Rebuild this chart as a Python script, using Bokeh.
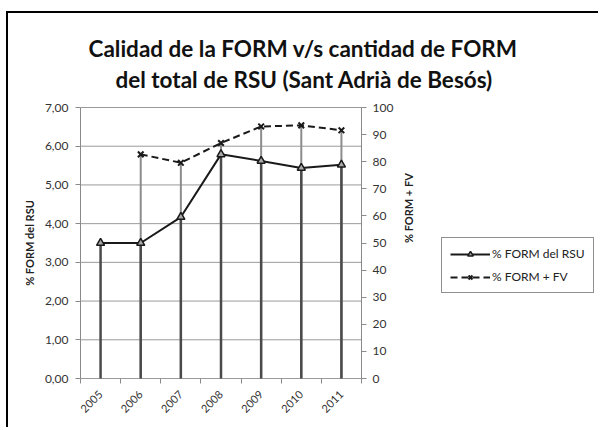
import math
from bokeh.plotting import figure
from bokeh.models import (Range1d, LinearAxis, FixedTicker, Legend, LegendItem,
                          Title, ColumnDataSource)
from bokeh.embed import file_html
from bokeh.resources import INLINE

# ---- data ----
years = ["2005", "2006", "2007", "2008", "2009", "2010", "2011"]
form_rsu = [3.50, 3.50, 4.17, 5.79, 5.62, 5.44, 5.52]          # left axis
form_fv = [float("nan"), 82.7, 79.6, 86.9, 93.0, 93.4, 91.6]    # right axis
left_ticks = [0, 1, 2, 3, 4, 5, 6, 7]
left_tick_labels = ["0,00", "1,00", "2,00", "3,00", "4,00", "5,00", "6,00", "7,00"]
right_ticks = [0, 10, 20, 30, 40, 50, 60, 70, 80, 90, 100]
title_lines = ["Calidad de la FORM v/s cantidad de FORM",
               "del total de RSU (Sant Adrià de Besós)"]
series_names = ["% FORM del RSU", "% FORM + FV"]
left_label = "% FORM del RSU"
right_label = "% FORM + FV"

FONT = "Lato"
n = len(years)
xs = [i + 0.5 for i in range(n)]
L_MAX, R_MAX = left_ticks[-1], right_ticks[-1]

src = ColumnDataSource(dict(x=xs, rsu=form_rsu, fv=form_fv, zero=[0] * n))
grid_src = ColumnDataSource(dict(y=left_ticks, x0=[0] * len(left_ticks),
                                 x1=[n] * len(left_ticks)))

# layout in pixels: category area 281 px wide, value area 271 px tall;
# the frame is padded so that axis labels pinned inside it are not clipped
PX_X = 281 / n
PX_L = 271 / L_MAX
PX_R = 271 / R_MAX
PAD = 7
FRAME_W = 592 - 72 - 5
X_END = FRAME_W / PX_X

p = figure(width=592, height=416, output_backend="svg", toolbar_location=None,
           x_range=Range1d(0, X_END),
           y_range=Range1d(-PAD / PX_L, L_MAX + PAD / PX_L),
           min_border_left=72, min_border_right=5, min_border_top=87,
           min_border_bottom=44)
p.outline_line_color = None
p.background_fill_color = "white"
p.border_fill_color = "white"
p.styles = {"border-top": "2px solid black", "border-left": "2px solid black",
            "margin-left": "6px", "margin-top": "11px"}

p.extra_y_ranges = {"right": Range1d(-PAD / PX_R, R_MAX + PAD / PX_R)}

# titles: p.title is the upper line, the added Title the lower line
p.title.text = title_lines[0]
t2 = Title(text=title_lines[1])
for t, off, so in [(p.title, 8, -11), (t2, 35, 15)]:
    t.align = "left"
    t.offset = off
    t.standoff = so
    t.text_font = FONT
    t.text_font_style = "bold"
    t.text_font_size = "22.5px"
    t.text_color = "#111111"
p.add_layout(t2, "above")

# gridlines (only across the category area)
p.grid.visible = False
p.segment(x0="x0", y0="y", x1="x1", y1="y", source=grid_src,
          line_color="#9a9a9a", line_width=1)

# x axis (its line is the gridline at 0)
xa = p.xaxis[0]
xa.bounds = (0, n)
xa.ticker = FixedTicker(ticks=xs, minor_ticks=list(range(n + 1)))
xa.major_label_overrides = {x: y for x, y in zip(xs, years)}
xa.major_tick_line_color = None
xa.minor_tick_line_color = "#8a8a8a"
xa.minor_tick_in = PAD
xa.minor_tick_out = -2
xa.axis_line_color = None
xa.major_label_orientation = math.pi / 4
xa.major_label_text_font = FONT
xa.major_label_text_font_size = "11px"
xa.major_label_text_color = "#333333"
xa.major_label_standoff = 1

# left axis
ya = p.yaxis[0]
ya.bounds = (0, L_MAX)
ya.ticker = FixedTicker(ticks=left_ticks, minor_ticks=[])
ya.major_label_overrides = {t: l for t, l in zip(left_ticks, left_tick_labels)}
ya.axis_line_color = "#8a8a8a"
ya.major_tick_line_color = "#8a8a8a"
ya.major_tick_out = 5
ya.major_tick_in = 0
ya.major_label_text_font = FONT
ya.major_label_text_font_size = "12px"
ya.major_label_text_color = "#333333"
ya.major_label_standoff = 7
ya.axis_label = left_label
ya.axis_label_text_font = FONT
ya.axis_label_text_font_style = "bold"
ya.axis_label_text_font_size = "11px"
ya.axis_label_text_color = "#222222"
ya.axis_label_standoff = 6

# right axis, pinned at the end of the category area
ra = LinearAxis(y_range_name="right", fixed_location=n, bounds=(0, R_MAX),
                ticker=FixedTicker(ticks=right_ticks, minor_ticks=[]))
ra.axis_line_color = "#8a8a8a"
ra.major_tick_line_color = "#8a8a8a"
ra.major_tick_out = 5
ra.major_tick_in = 0
ra.major_label_text_font = FONT
ra.major_label_text_font_size = "12px"
ra.major_label_text_color = "#333333"
ra.major_label_standoff = 6
ra.axis_label = right_label
ra.axis_label_text_font = FONT
ra.axis_label_text_font_style = "bold"
ra.axis_label_text_font_size = "11px"
ra.axis_label_text_color = "#222222"
ra.axis_label_standoff = 12
if hasattr(ra, "axis_label_orientation"):
    ra.axis_label_orientation = math.pi / 2
p.add_layout(ra, "right")

# drop lines
p.segment(x0="x", y0="zero", x1="x", y1="fv", source=src, y_range_name="right",
          line_color="#8c8c8c", line_width=2)
p.segment(x0="x", y0="zero", x1="x", y1="rsu", source=src,
          line_color="#4a4a4a", line_width=2.5)

# series
l1 = p.line("x", "rsu", source=src, line_color="#1a1a1a", line_width=2)
m1 = p.scatter("x", "rsu", source=src, marker="triangle", size=8,
               line_color="#1a1a1a", fill_color="#aaaaaa", line_width=1.5)
l2 = p.line("x", "fv", source=src, y_range_name="right", line_color="#1a1a1a",
            line_width=2, line_dash="7 4")
m2 = p.scatter("x", "fv", source=src, y_range_name="right", marker="x", size=8,
               line_color="#1a1a1a", line_width=2)

legend = Legend(items=[LegendItem(label=series_names[0], renderers=[l1, m1]),
                       LegendItem(label=series_names[1], renderers=[l2, m2])],
                location=(361, 92))
legend.border_line_color = "#222222"
legend.border_line_width = 1
legend.label_text_font = FONT
legend.label_text_font_size = "12px"
legend.label_text_color = "#222222"
legend.glyph_width = 40
legend.glyph_height = 14
legend.spacing = 8
legend.padding = 8
legend.margin = 0
legend.label_standoff = 2
p.add_layout(legend, "center")

open("out.html", "w").write(file_html(p, INLINE))
